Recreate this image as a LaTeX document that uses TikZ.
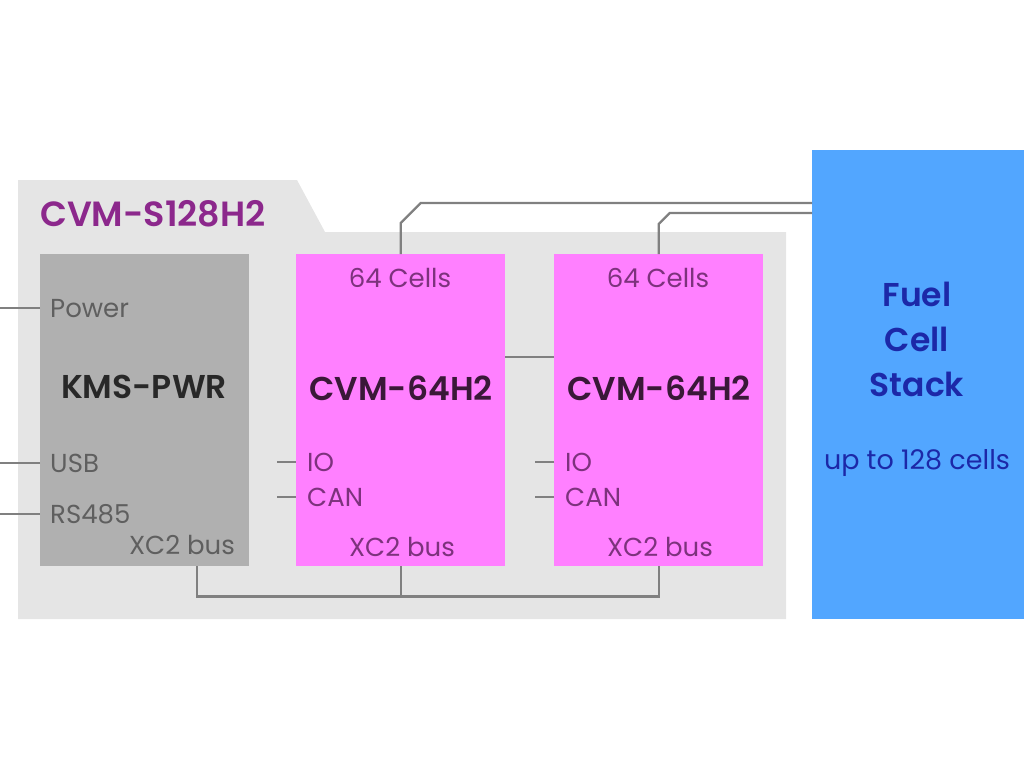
\documentclass[tikz,border=0pt]{standalone}
\usepackage{fontspec}
\setmainfont{Poppins}[BoldFont={Poppins SemiBold}]
\usetikzlibrary{positioning,calc}
\definecolor{panelgray}{RGB}{229,229,229}
\definecolor{kmsgray}{RGB}{176,176,176}
\definecolor{cvmpink}{RGB}{255,128,255}
\definecolor{stackblue}{RGB}{82,166,255}
\definecolor{wiregray}{RGB}{128,128,128}
\definecolor{titlepurple}{RGB}{140,40,140}
\definecolor{cvmtext}{RGB}{125,50,125}
\definecolor{cvmdark}{RGB}{58,24,56}
\definecolor{kmstext}{RGB}{95,95,95}
\definecolor{kmsdark}{RGB}{40,40,40}
\definecolor{stacktext}{RGB}{28,40,168}

\begin{document}
\begin{tikzpicture}[x=1pt,y=-1pt,
  box/.style={minimum width=209pt,minimum height=312pt,inner sep=0pt,anchor=north west},
  wire/.style={draw=wiregray,line width=2.2pt},
  lbl/.style={font=\fontsize{26}{30}\selectfont,inner sep=0pt,text height=18pt,text depth=0pt},
  ttl/.style={font=\fontsize{33}{40}\selectfont\bfseries,inner sep=0pt,text height=23pt,text depth=0pt}]
  \useasboundingbox (0,0) rectangle (1024,768);
  % panel with tab
  \fill[panelgray] (18,180) -- (297,180) -- (325,232) -- (786,232) -- (786,619) -- (18,619) -- cycle;
  \node[ttl,text=titlepurple,anchor=west,font=\fontsize{35}{40}\selectfont\bfseries] (panel) at (40,215) {CVM-S128H2};

  \node[box,fill=kmsgray] (kms) at (40,254) {};
  \node[box,fill=cvmpink] (cvmA) at (296,254) {};
  \node[box,fill=cvmpink] (cvmB) at (554,254) {};
  \node[fill=stackblue,minimum width=212pt,minimum height=469pt,inner sep=0pt,anchor=north west] (stack) at (812,150) {};

  % KMS-PWR
  \node[lbl,text=kmstext,anchor=west] (pwr) at (50,308) {Power};
  \node[ttl,text=kmsdark] (kmsname) at (144,387) {KMS-PWR};
  \node[lbl,text=kmstext,anchor=west] (usb) at (50,463) {USB};
  \node[lbl,text=kmstext,anchor=west] (rs) at (50,514) {RS485};
  \node[lbl,text=kmstext] (busK) at (182,545) {XC2 bus};

  % CVM-64H2 modules
  \node[lbl,text=cvmtext] (cellsA) at (400,278) {64 Cells};
  \node[ttl,text=cvmdark] (nameA) at (401,389) {CVM-64H2};
  \node[lbl,text=cvmtext,anchor=west] (ioA) at (307,462) {IO};
  \node[lbl,text=cvmtext,anchor=west] (canA) at (307,497) {CAN};
  \node[lbl,text=cvmtext] (busA) at (402,547) {XC2 bus};

  \node[lbl,text=cvmtext] (cellsB) at (658,278) {64 Cells};
  \node[ttl,text=cvmdark] (nameB) at (659,389) {CVM-64H2};
  \node[lbl,text=cvmtext,anchor=west] (ioB) at (565,462) {IO};
  \node[lbl,text=cvmtext,anchor=west] (canB) at (565,497) {CAN};
  \node[lbl,text=cvmtext] (busB) at (660,547) {XC2 bus};

  % stack
  \node[font=\fontsize{33}{45}\selectfont\bfseries,text=stacktext,align=center,inner sep=0pt] (stackname) at (917,339) {Fuel\\Cell\\Stack};
  \node[lbl,text=stacktext,font=\fontsize{27}{30}\selectfont] (upto) at (917,460) {up to 128 cells};

  % wires
  \draw[wire] (kms.west |- pwr) -- ++(-40,0);
  \draw[wire] (kms.west |- usb) -- ++(-40,0);
  \draw[wire] (kms.west |- rs) -- ++(-40,0);
  \draw[wire] (cvmA.west |- ioA) -- ++(-19,0);
  \draw[wire] (cvmA.west |- canA) -- ++(-19,0);
  \draw[wire] (cvmB.west |- ioB) -- ++(-19,0);
  \draw[wire] (cvmB.west |- canB) -- ++(-19,0);
  \draw[wire] ([yshift=53pt]cvmA.east) -- ([yshift=53pt]cvmB.west);
  \draw[wire] (cvmA.north) -- ++(0,-31) -- ++(20,-20) coordinate (kinkA) -- (kinkA -| stack.west);
  \draw[wire] (cvmB.north) -- ++(0,-30) -- ++(11,-11) coordinate (kinkB) -- (kinkB -| stack.west);
  \draw[wire] ([xshift=52pt]kms.south) -- ++(0,30) -| (cvmB.south);
  \draw[wire] (cvmA.south) -- ++(0,30);
\end{tikzpicture}
\end{document}
